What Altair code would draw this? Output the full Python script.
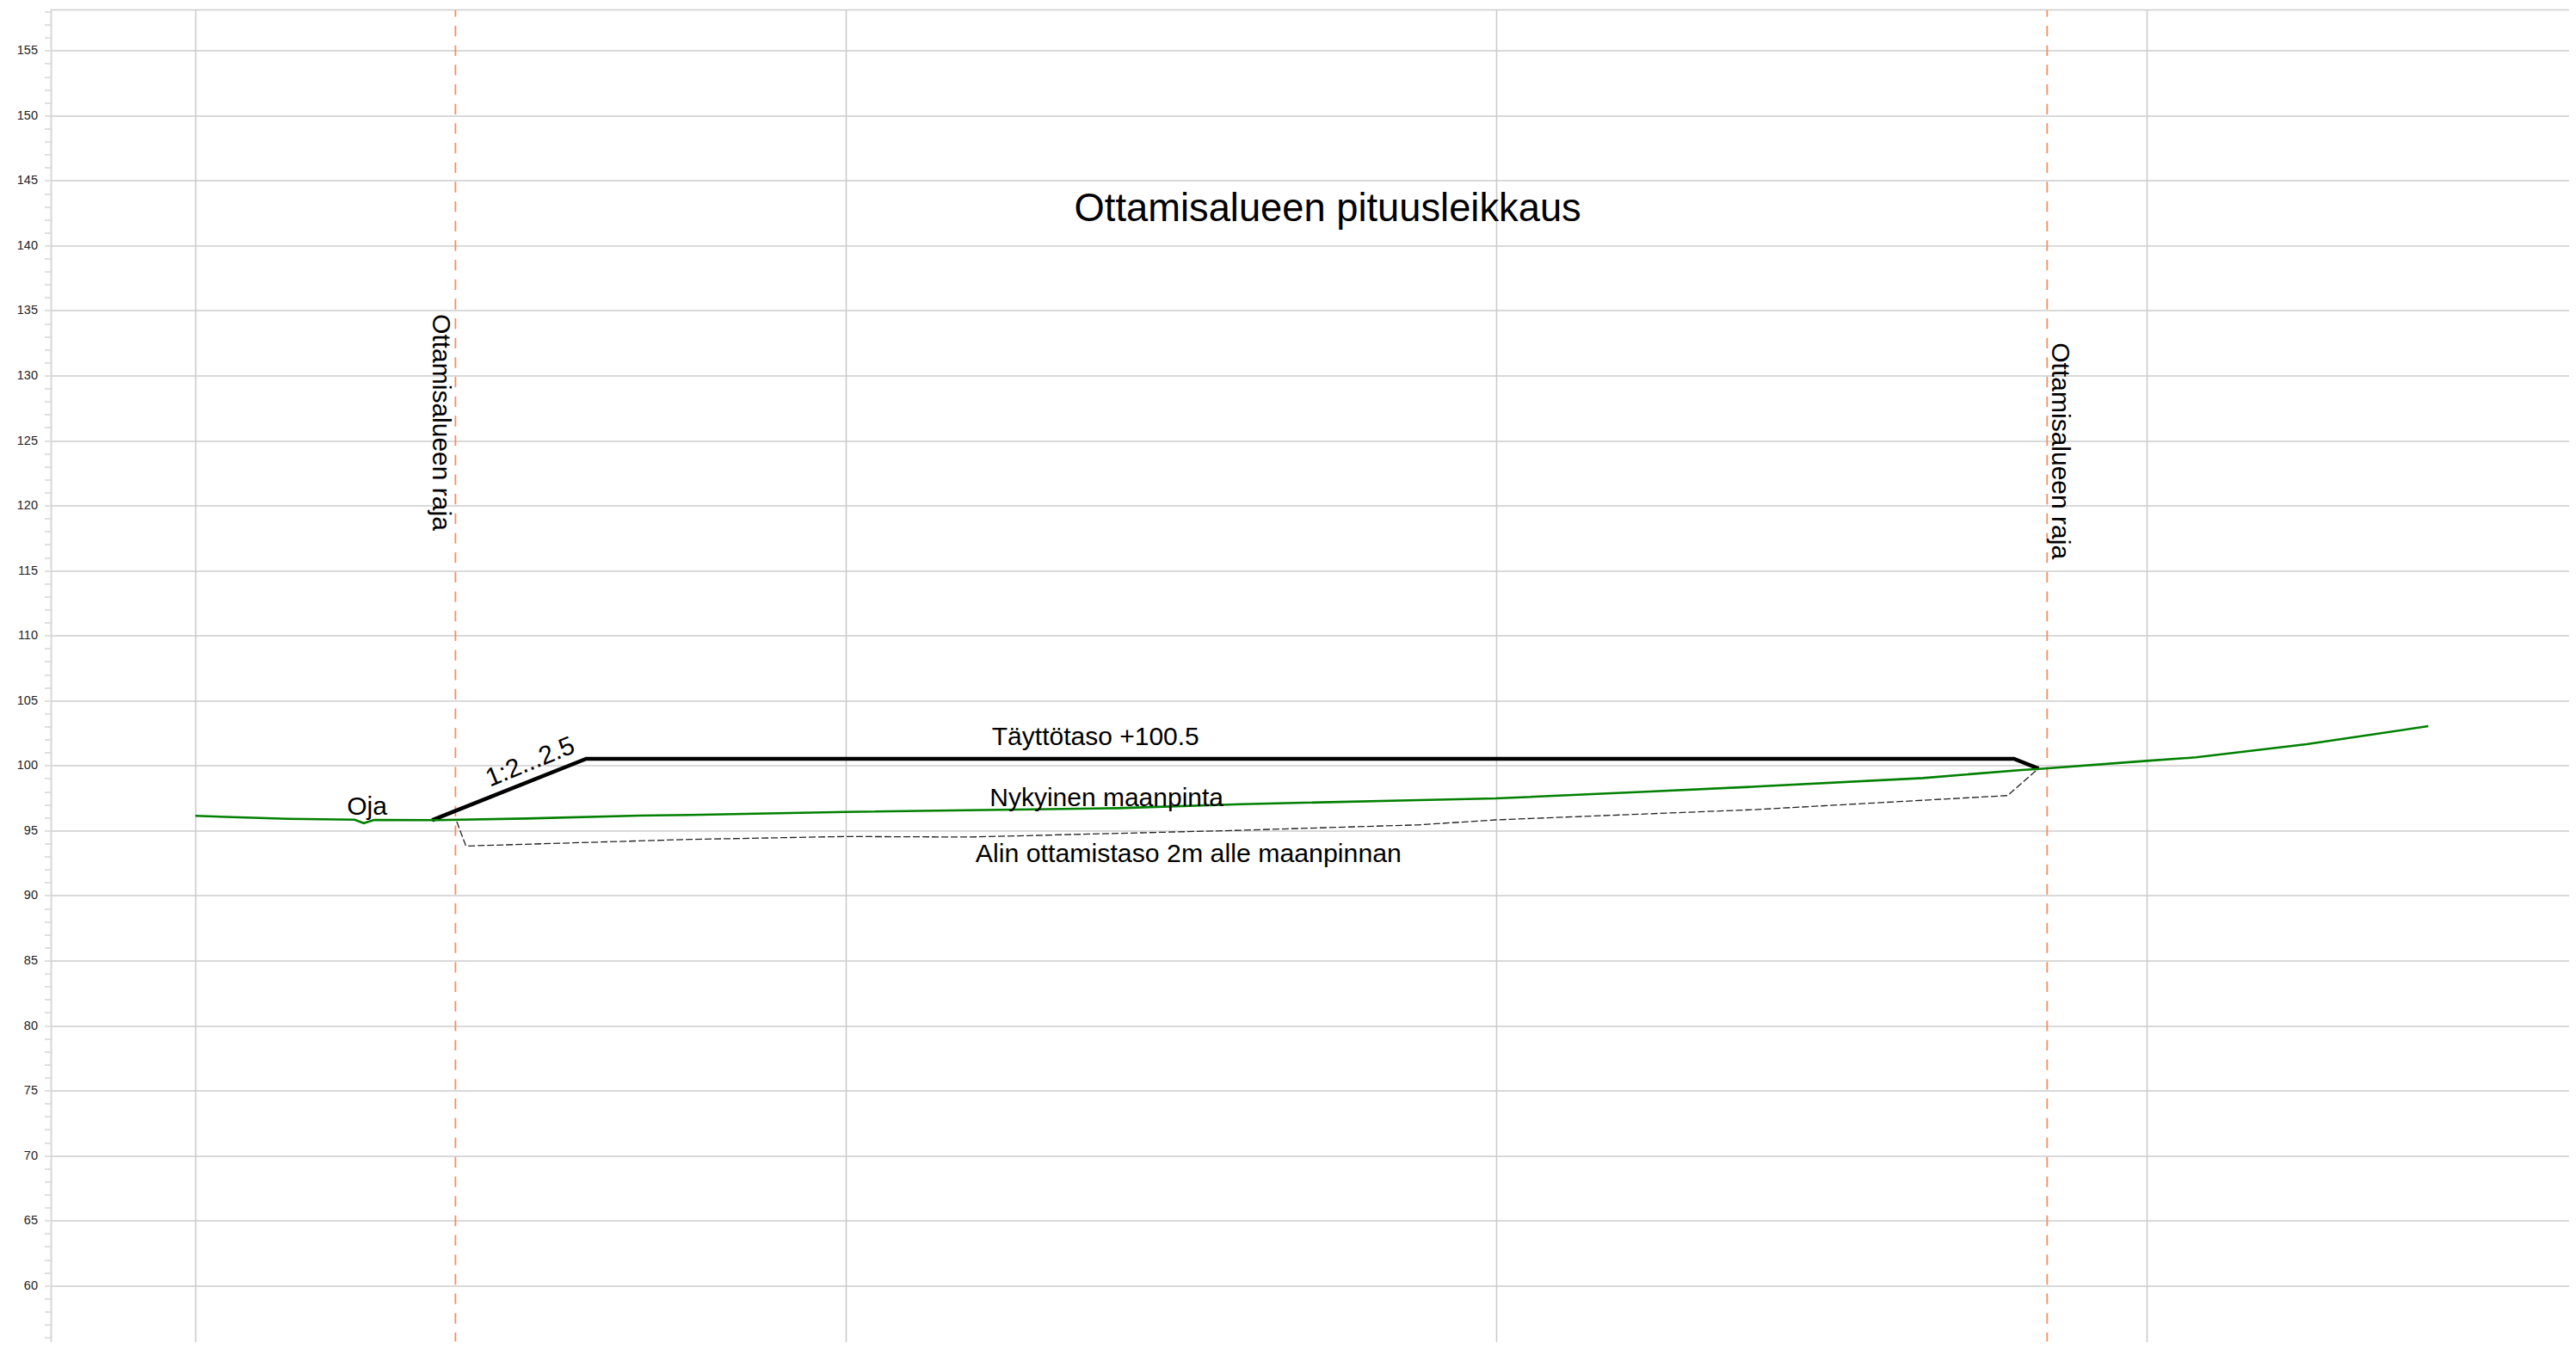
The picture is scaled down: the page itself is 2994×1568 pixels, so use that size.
import altair as alt
import pandas as pd

ground_x = [0, 14.2, 24.5, 25.9, 27.5, 36.4, 51, 68.3, 76, 100, 141.8, 160.8, 188.2, 199.9, 223.7, 239.9, 265.6, 280.8, 283.5, 300, 307.6, 324.6, 343.3]
ground_y = [96.13, 95.9, 95.84, 95.57, 95.82, 95.8, 95.93, 96.15, 96.2, 96.43, 96.72, 97.03, 97.34, 97.47, 98.0, 98.38, 99.04, 99.66, 99.74, 100.36, 100.63, 101.64, 103.03]
fill_x = [36.4, 60.1, 279.6, 283.4]
fill_y = [95.8, 100.52, 100.52, 99.77]
bottom_x = [40.2, 41.6, 76, 100, 119, 159.3, 188.2, 199.9, 239.7, 278.6, 283.1]
bottom_y = [95.69, 93.81, 94.32, 94.54, 94.5, 95.0, 95.44, 95.82, 96.61, 97.69, 99.66]
limit_x = [40.0, 284.7]
grid_x = [0, 100, 200, 300]
tick_values = list(range(56, 159))
texts = ["Ottamisalueen pituusleikkaus", "Täyttötaso +100.5", "Nykyinen maanpinta",
         "Alin ottamistaso 2m alle maanpinnan", "Oja"]
text_x = [174.1, 138.4, 140.1, 152.7, 26.4]
text_y = [142.84, 102.17, 97.47, 93.2, 96.84]
text_size = [45.3, 30, 30, 30.3, 30]
side_text = "Ottamisalueen raja"
side_x = [37.7, 286.6]
side_y = [126.4, 124.2]
slope_text = "1:2...2.5"
slope_x = [51.5]
slope_y = [100.25]
top_value = [158.13]

font = "Liberation Sans"
xs = alt.Scale(domain=[-22.22, 364.95], nice=False, zero=False)
ys = alt.Scale(domain=[55.68, 158.13], nice=False, zero=False)

X = alt.X("x:Q", scale=xs, title=None,
          axis=alt.Axis(values=grid_x, labels=False, ticks=False, domain=False, grid=True,
                        gridColor="#cccccc", gridWidth=1.6))
Y = alt.Y("y:Q", scale=ys, title=None,
          axis=alt.Axis(values=tick_values, grid=True, gridColor="#cccccc", gridWidth=1.5,
                        gridOpacity={"condition": {"test": "datum.value % 5 == 0", "value": 1}, "value": 0},
                        tickColor="#cccccc", tickSize=7.5, tickWidth=1.2, domainColor="#d8d8d8", domainWidth=2,
                        labelFont=font, labelFontSize=14.5, labelColor="#222222", labelPadding=8,
                        labelOverlap=False, labelBound=False, labelFlush=False,
                        labelExpr="datum.value % 5 == 0 ? datum.label : ''"))


def line(xv, yv, color, width, dash=None):
    df = pd.DataFrame({"x": xv, "y": yv, "o": range(len(xv))})
    kw = dict(color=color, strokeWidth=width, clip=True)
    if dash:
        kw["strokeDash"] = dash
    return alt.Chart(df).mark_line(**kw).encode(x=X, y=Y, order="o:Q")


top_line = alt.Chart(pd.DataFrame({"y": top_value})).mark_rule(color="#cccccc", strokeWidth=1.5).encode(y=Y)

limits = alt.Chart(pd.DataFrame({"x": limit_x})).mark_rule(
    color="#f98e5e", strokeWidth=1.8, strokeDash=[12.3, 10.37], strokeDashOffset=4.2, clip=True
).encode(x=X)

labels = alt.Chart(pd.DataFrame({"x": text_x, "y": text_y, "t": texts, "s": text_size})).mark_text(
    font=font, color="#000000", align="center", baseline="middle"
).encode(x=X, y=Y, text="t:N", size=alt.Size("s:Q", scale=None, legend=None))
side = alt.Chart(pd.DataFrame({"x": side_x, "y": side_y, "t": [side_text] * 2})).mark_text(
    font=font, color="#000000", fontSize=30, angle=90, align="center", baseline="middle"
).encode(x=X, y=Y, text="t:N")
slope = alt.Chart(pd.DataFrame({"x": slope_x, "y": slope_y, "t": [slope_text]})).mark_text(
    font=font, color="#000000", fontSize=30, angle=338, align="center", baseline="middle"
).encode(x=X, y=Y, text="t:N")

chart = alt.layer(
    top_line,
    limits,
    line(bottom_x, bottom_y, "#222222", 1.3, [8, 3]),
    line(fill_x, fill_y, "#000000", 4.5),
    line(ground_x, ground_y, "#008000", 2.6),
    labels, side, slope,
).properties(
    width=2927, height=1548,
    autosize="none",
    padding={"left": 51, "top": 3.5, "right": 0, "bottom": 0},
    background="white",
).configure_view(stroke=None)

chart.save("out.html", embed_options={"renderer": "svg", "actions": False})
